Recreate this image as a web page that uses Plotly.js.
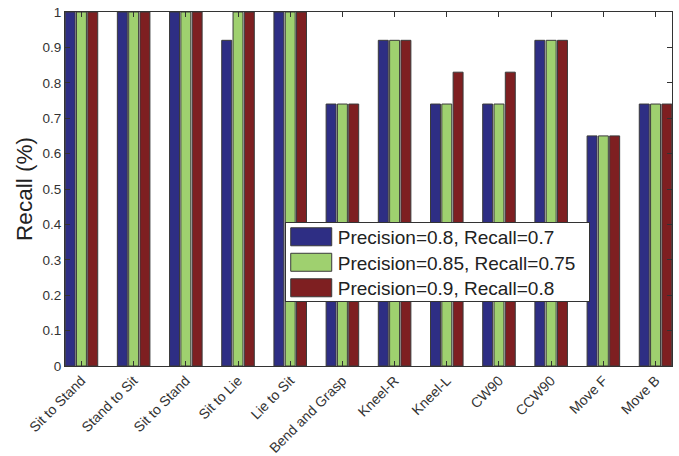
<!DOCTYPE html>
<html>
<head>
<meta charset="utf-8">
<script src="https://cdn.plot.ly/plotly-3.0.1.min.js"></script>
<style>html,body{margin:0;padding:0;background:#fff;}#chart{width:679px;height:456px;}</style>
</head>
<body>
<div id="chart"></div>
<script>
const categories = ["Sit to Stand","Stand to Sit","Sit to Stand","Sit to Lie","Lie to Sit","Bend and Grasp","Kneel-R","Kneel-L","CW90","CCW90","Move F","Move B"];
const seriesNames = ["Precision=0.8, Recall=0.7","Precision=0.85, Recall=0.75","Precision=0.9, Recall=0.8"];
const s1 = [1,1,1,0.92,1,0.74,0.92,0.74,0.74,0.92,0.65,0.74];
const s2 = [1,1,1,1,1,0.74,0.92,0.74,0.74,0.92,0.65,0.74];
const s3 = [1,1,1,1,1,0.74,0.92,0.83,0.83,0.92,0.65,0.74];
const colors = ["#2e2e84","#9fd06f","#7e1f21"];
const yTicks = [0,0.1,0.2,0.3,0.4,0.5,0.6,0.7,0.8,0.9,1];
const yTickText = ["0","0.1","0.2","0.3","0.4","0.5","0.6","0.7","0.8","0.9","1"];

const idx = categories.map((c,i)=>i);
const data = [s1,s2,s3].map((v,k)=>({
  type:'bar', x: idx, y: v, name: seriesNames[k],
  marker:{color:colors[k], line:{color:'#3a3a3a', width:1}}
}));
const layout = {
  width:679, height:456,
  margin:{l:65, r:7, t:12, b:90},
  paper_bgcolor:'#fff', plot_bgcolor:'#fff',
  font:{family:'Liberation Sans, Arial, sans-serif', color:'#333'},
  barmode:'group', bargap:0.35, bargroupgap:0.12,
  showlegend:true,
  legend:{x:0.362, y:0.407, xanchor:'left', yanchor:'top', bgcolor:'#fff', bordercolor:'#333', borderwidth:1,
    font:{size:19, color:'#222'}, itemwidth:42, tracegroupgap:0},
  xaxis:{range:[-0.315,11.315], tickmode:'array', tickvals:idx, ticktext:categories, tickangle:-45,
    ticks:'inside', ticklen:5, tickcolor:'#333', showline:true, linecolor:'#333', mirror:'ticks',
    tickfont:{size:14, color:'#333'}, showgrid:false, zeroline:false},
  yaxis:{range:[0,1], tickmode:'array', tickvals:yTicks, ticktext:yTickText,
    ticks:'inside', ticklen:5, tickcolor:'#333', showline:true, linecolor:'#333', mirror:'ticks',
    tickfont:{size:13.5, color:'#333'}, showgrid:false, zeroline:false,
    title:{text:'Recall (%)', font:{size:22.5, color:'#222'}, standoff:3}}
};
Plotly.newPlot('chart', data, layout, {displayModeBar:false, staticPlot:true}).then(()=>{
  document.querySelectorAll('.legendpoints path').forEach(p=>{
    p.setAttribute('d','M-21,-9H20V9H-21Z');
  });
  // tighten legend row spacing to match reference
  const items = Array.from(document.querySelectorAll('.legend .traces'));
  const ys = items.map(t=>{
    const m = /translate\(([-\d.]+),\s*([-\d.]+)\)/.exec(t.getAttribute('transform')||'');
    return m ? [parseFloat(m[1]), parseFloat(m[2])] : [0,0];
  });
  if (ys.length > 1) {
    const spacing = 25.5;
    const shift = -5;
    items.forEach((t,i)=>{
      t.setAttribute('transform', 'translate(' + ys[i][0] + ',' + (ys[0][1] + shift + i*spacing) + ')');
    });
    const bg = document.querySelector('.legend .bg');
    if (bg) {
      bg.setAttribute('height', 79);
      bg.setAttribute('width', 304);
    }
  }
});
</script>
</body>
</html>
